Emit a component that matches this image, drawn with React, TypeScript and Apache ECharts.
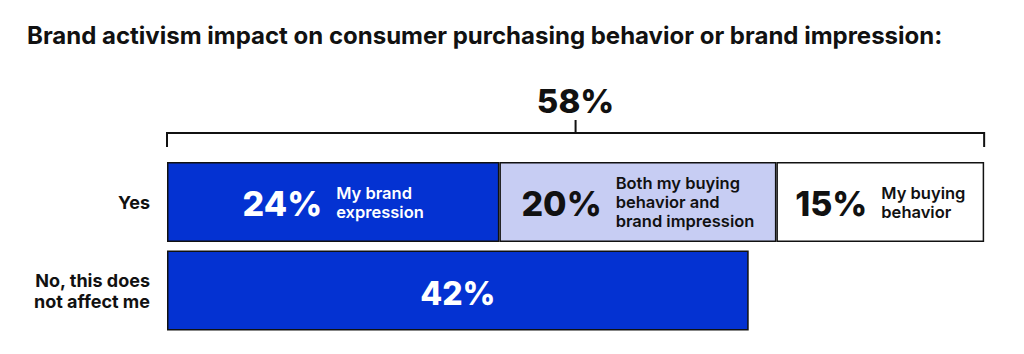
import React, { useEffect, useRef } from "react";
import * as echarts from "echarts";

const titleText = "Brand activism impact on consumer purchasing behavior or brand impression:";
const categories = ["Yes", "No, this does\nnot affect me"];
const seg1 = [24, 42];
const seg2: (number | string)[] = [20, "-"];
const seg3: (number | string)[] = [15, "-"];
const segDescriptions = [
  "My brand\nexpression",
  "Both my buying\nbehavior and\nbrand impression",
  "My buying\nbehavior",
];
const yesTotalLabel = "58%";
const xMax = 60;

const FONT = "Inter";
const BLUE = "#0432D2";
const LAVENDER = "#C7CDF3";
const INK = "#111111";

function measure(text: string, font: string): number {
  const c = document.createElement("canvas").getContext("2d");
  if (!c) return text.length * 10;
  c.font = font;
  return Math.max(...text.split("\n").map((l) => c.measureText(l).width));
}

export default function App() {
  const ref = useRef<HTMLDivElement>(null);
  useEffect(() => {
    if (!ref.current) return;
    const chart = echarts.init(ref.current, null, { renderer: "svg" });
    const barStyle = (color: string) => ({
      color,
      borderColor: INK,
      borderWidth: 1.5,
    });
    chart.setOption({
      animation: false,
      title: {
        text: titleText,
        left: 22,
        top: 18,
        textStyle: { fontFamily: FONT, fontSize: 24, fontWeight: 700, color: INK },
      },
      grid: { left: 167, right: 26, top: 157.75, bottom: 19.25 },
      xAxis: { type: "value", min: 0, max: xMax, show: false },
      yAxis: {
        type: "category",
        data: categories,
        inverse: true,
        axisLine: { show: false },
        axisTick: { show: false },
        axisLabel: {
          fontFamily: FONT,
          fontSize: 18,
          fontWeight: 700,
          color: INK,
          margin: 17,
          lineHeight: 21,
          align: "right",
        },
      },
      series: [
        {
          type: "bar",
          stack: "s",
          data: seg1,
          barWidth: 80,
          itemStyle: barStyle(BLUE),
          label: {
            show: true,
            position: "inside",
            offset: [0, 3],
            formatter: (p: any) => (p.dataIndex === 1 ? `${p.value}%` : ""),
            fontFamily: FONT,
            fontSize: 32,
            fontWeight: 800,
            color: "#fff",
          },
        },
        { type: "bar", stack: "s", data: seg2, barWidth: 80, itemStyle: barStyle(LAVENDER) },
        { type: "bar", stack: "s", data: seg3, barWidth: 80, itemStyle: barStyle("#ffffff") },
      ],
    });

    const yesVals = [seg1[0], seg2[0] as number, seg3[0] as number];
    const yY = chart.convertToPixel({ yAxisIndex: 0 }, categories[0]) as number;
    const graphics: any[] = [];
    let acc = 0;
    yesVals.forEach((v, i) => {
      const x0 = chart.convertToPixel({ xAxisIndex: 0 }, acc) as number;
      const x1 = chart.convertToPixel({ xAxisIndex: 0 }, acc + v) as number;
      acc += v;
      const pct = `${v}%`;
      const pctFont = `800 34px ${FONT}`;
      const descFont = `600 16.5px ${FONT}`;
      const pw = measure(pct, pctFont);
      const dw = measure(segDescriptions[i], descFont);
      const gap = 14;
      const start = (x0 + x1) / 2 - (pw + gap + dw) / 2;
      const col = i === 0 ? "#ffffff" : INK;
      graphics.push({
        type: "text",
        x: start,
        y: yY + 1,
        z: 100,
        style: {
          text: pct,
          fill: col,
          font: pctFont,
          textAlign: "left",
          textVerticalAlign: "middle",
        },
      });
      graphics.push({
        type: "text",
        x: start + pw + gap,
        y: yY,
        z: 100,
        style: {
          text: segDescriptions[i],
          fill: col,
          font: descFont,
          lineHeight: 19,
          textAlign: "left",
          textVerticalAlign: "middle",
        },
      });
    });
    const bx0 = chart.convertToPixel({ xAxisIndex: 0 }, 0) as number;
    const bx1 = chart.convertToPixel({ xAxisIndex: 0 }, acc) as number;
    const bm = (bx0 + bx1) / 2;
    const lineStyle = { stroke: INK, lineWidth: 2 };
    graphics.push(
      { type: "polyline", z: 100, shape: { points: [[bx0, 147], [bx0, 133], [bx1, 133], [bx1, 147]] }, style: { ...lineStyle, fill: "none" } },
      { type: "line", z: 100, shape: { x1: bm, y1: 133, x2: bm, y2: 120 }, style: lineStyle },
      {
        type: "text",
        x: bm,
        y: 101,
        z: 100,
        style: {
          text: yesTotalLabel,
          fill: INK,
          font: `800 33px ${FONT}`,
          textAlign: "center",
          textVerticalAlign: "middle",
        },
      }
    );
    chart.setOption({ graphic: graphics });
    return () => chart.dispose();
  }, []);
  return (
    <div
      ref={ref}
      style={{ position: "fixed", left: 0, top: 0, width: 1024, height: 354, background: "#fff" }}
    />
  );
}
